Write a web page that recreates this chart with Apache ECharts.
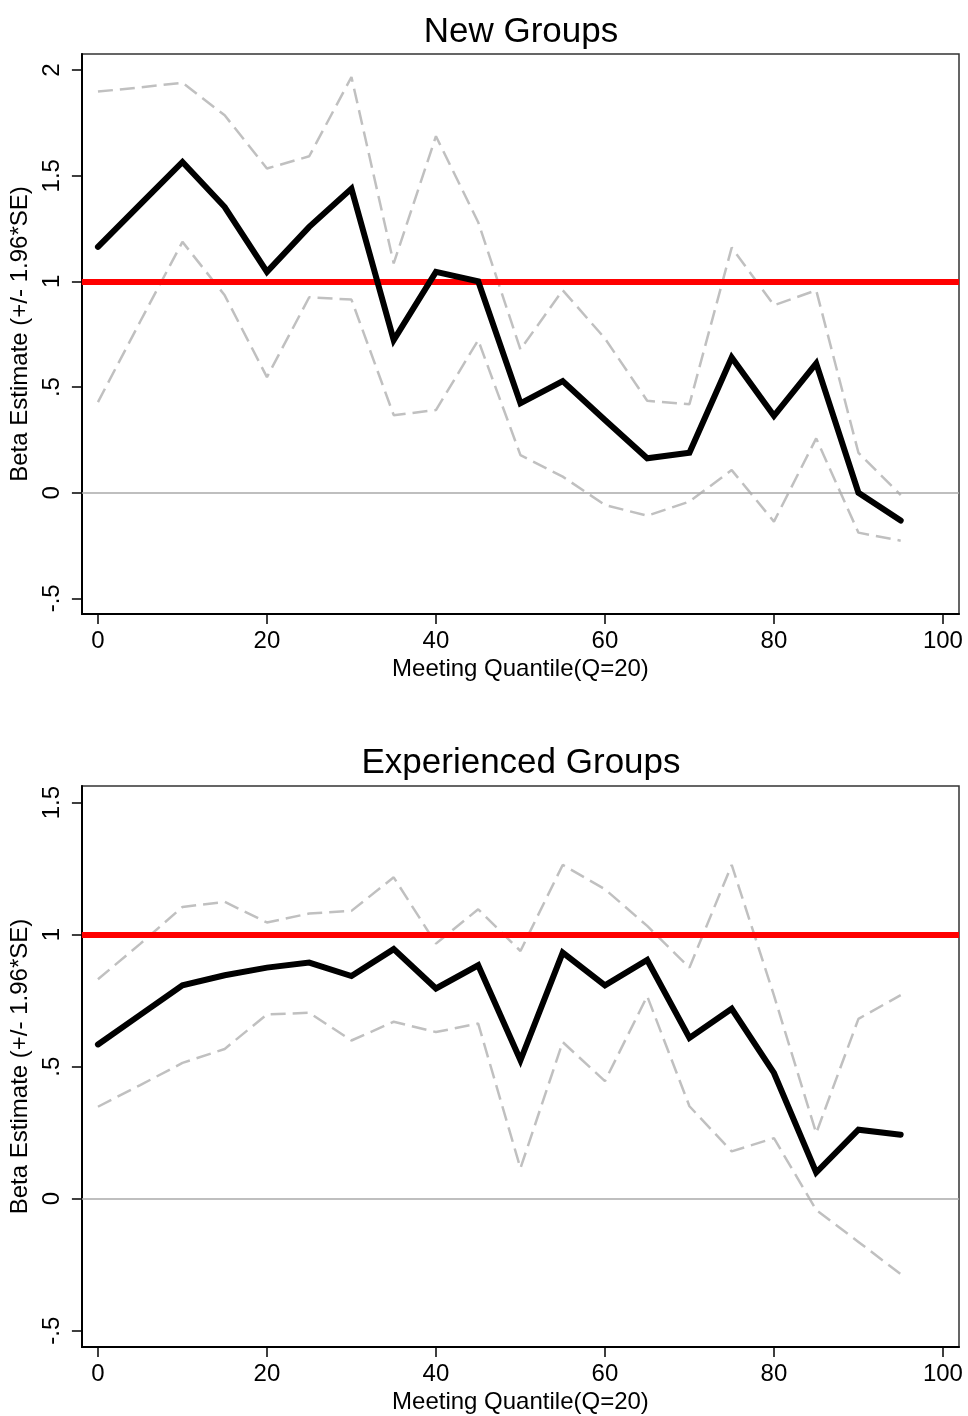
<!DOCTYPE html>
<html>
<head>
<meta charset="utf-8">
<script src="https://cdn.jsdelivr.net/npm/echarts@6/dist/echarts.min.js"></script>
<style>
html,body{margin:0;padding:0;background:#fff;}
#chart{width:968px;height:1416px;}
</style>
</head>
<body>
<div id="chart"></div>
<script>
// Data
const quantiles = [0,5,10,15,20,25,30,35,40,45,50,55,60,65,70,75,80,85,90,95];

const newBeta  = [1.163,1.364,1.565,1.352,1.045,1.258,1.439,0.722,1.045,1.0,0.423,0.528,0.344,0.163,0.189,0.640,0.364,0.612,0.0,-0.132];
const newUpper = [1.898,1.918,1.940,1.786,1.534,1.592,1.967,1.085,1.687,1.280,0.678,0.958,0.730,0.435,0.419,1.160,0.887,0.958,0.189,-0.011];
const newLower = [0.429,0.810,1.187,0.934,0.547,0.925,0.914,0.367,0.391,0.722,0.178,0.076,-0.058,-0.109,-0.042,0.107,-0.137,0.257,-0.189,-0.227];

const expBeta  = [0.584,0.696,0.808,0.846,0.875,0.894,0.843,0.945,0.796,0.884,0.524,0.932,0.808,0.904,0.609,0.719,0.476,0.099,0.261,0.242];
const expUpper = [0.831,0.965,1.105,1.124,1.046,1.080,1.090,1.217,0.966,1.096,0.938,1.264,1.172,1.033,0.875,1.264,0.770,0.248,0.681,0.771];
const expLower = [0.348,0.430,0.514,0.567,0.698,0.704,0.599,0.670,0.631,0.663,0.115,0.593,0.445,0.767,0.350,0.179,0.229,-0.043,-0.164,-0.286];

const xTicks = [0,20,40,60,80,100];
const yTicksNew = [-0.5,0,0.5,1,1.5,2];
const yTicksExp = [-0.5,0,0.5,1,1.5];
const titles = ['New Groups','Experienced Groups'];
const xName = 'Meeting Quantile(Q=20)';
const yName = 'Beta Estimate (+/- 1.96*SE)';
const refValue = 1;

const FONT = 'Liberation Sans, Arial, Helvetica, sans-serif';
const AX_FS = 24;

function pairs(vals){ return quantiles.map((q,i)=>[q,vals[i]]); }
function fmtY(v){
  let s = String(v);
  if (s.startsWith('0.')) s = s.slice(1);
  if (s.startsWith('-0.')) s = '-' + s.slice(2);
  return s;
}

const grids = [
  {left:80, right:9, top:54, height:560},
  {left:80, right:9, top:786, height:561}
];

function xAxis(gi){
  return {
    type:'value', gridIndex:gi, min:-1.9, max:101.9,
    axisLine:{show:true, onZero:false, lineStyle:{color:'#000', width:2}},
    axisTick:{show:true, length:10, lineStyle:{color:'#000', width:1.5}, customValues:xTicks},
    axisLabel:{customValues:xTicks, fontSize:AX_FS, color:'#000', fontFamily:FONT, margin:15},
    splitLine:{show:false},
    name:xName, nameLocation:'middle', nameGap:43,
    nameTextStyle:{fontSize:AX_FS, color:'#000', fontFamily:FONT}
  };
}
function yAxis(gi, min, max, ticks){
  return {
    type:'value', gridIndex:gi, min:min, max:max,
    axisLine:{show:true, onZero:false, lineStyle:{color:'#000', width:2}},
    axisTick:{show:true, length:10, lineStyle:{color:'#000', width:1.5}, customValues:ticks},
    axisLabel:{customValues:ticks, fontSize:AX_FS, color:'#000', fontFamily:FONT, rotate:90, margin:18,
      formatter:fmtY},
    splitLine:{show:false},
    name:yName, nameLocation:'middle', nameGap:47,
    nameTextStyle:{fontSize:AX_FS, color:'#000', fontFamily:FONT}
  };
}

function seriesFor(gi, up, lo, beta){
  const dashed = {color:'#c0c0c0', width:2.5, type:[15,7]};
  return [
    {type:'line', xAxisIndex:gi, yAxisIndex:gi, data:[], silent:true, z:1,
     markLine:{silent:true, symbol:'none', label:{show:false},
       lineStyle:{color:'#aaaaaa', width:1.5, type:'solid'}, data:[{yAxis:0}]}},
    {type:'line', xAxisIndex:gi, yAxisIndex:gi, data:pairs(up), showSymbol:false, lineStyle:dashed, z:2},
    {type:'line', xAxisIndex:gi, yAxisIndex:gi, data:pairs(lo), showSymbol:false, lineStyle:dashed, z:2},
    {type:'line', xAxisIndex:gi, yAxisIndex:gi, data:[], silent:true, z:3,
     markLine:{silent:true, symbol:'none', label:{show:false},
       lineStyle:{color:'#ff0000', width:6, type:'solid'}, data:[{yAxis:refValue}]}},
    {type:'line', xAxisIndex:gi, yAxisIndex:gi, data:pairs(beta), showSymbol:false, z:5,
     lineStyle:{color:'#000', width:6, join:'miter', cap:'round'}}
  ];
}

const chart = echarts.init(document.getElementById('chart'), null, {renderer:'canvas'});
chart.setOption({
  animation:false,
  backgroundColor:'#fff',
  title:[
    {text:titles[0], left:516, textAlign:'center', top:10, textStyle:{fontSize:35, fontWeight:'normal', color:'#000', fontFamily:FONT}},
    {text:titles[1], left:516, textAlign:'center', top:741, textStyle:{fontSize:35, fontWeight:'normal', color:'#000', fontFamily:FONT}}
  ],
  grid: grids.map(g=>Object.assign({show:true, borderColor:'#333', borderWidth:1.5, backgroundColor:'#fff', containLabel:false}, g)),
  xAxis:[xAxis(0), xAxis(1)],
  yAxis:[yAxis(0,-0.574,2.076,yTicksNew), yAxis(1,-0.562,1.563,yTicksExp)],
  series:[].concat(seriesFor(0,newUpper,newLower,newBeta), seriesFor(1,expUpper,expLower,expBeta))
});
</script>
</body>
</html>
